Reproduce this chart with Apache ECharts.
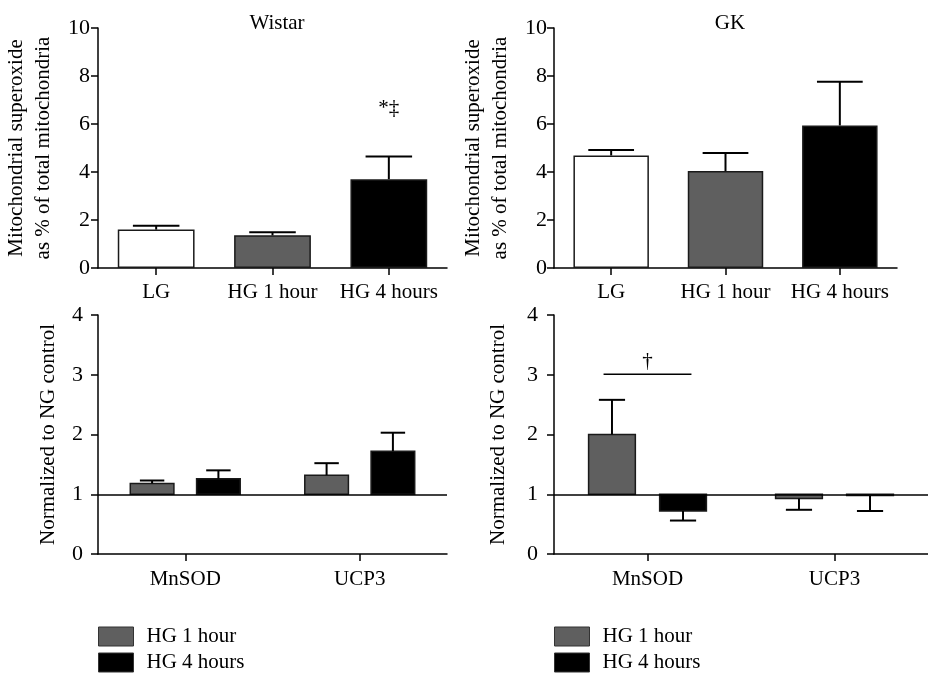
<!DOCTYPE html>
<html>
<head>
<meta charset="utf-8">
<script src="https://cdn.jsdelivr.net/npm/echarts@6/dist/echarts.min.js"></script>
<style>
  html, body { margin: 0; padding: 0; background: #fff; }
  #chart { width: 928px; height: 680px; }
</style>
</head>
<body>
<div id="chart"></div>
<script>
// 上排：线粒体超氧化物（均值 + 误差上限）
const topCategories = ['LG', 'HG 1 hour', 'HG 4 hours']
const wistarMean = [1.6, 1.36, 3.7]
const wistarErr = [1.76, 1.49, 4.65]
const gkMean = [4.69, 4.04, 5.94]
const gkErr = [4.92, 4.79, 7.76]
const topTicks = [0, 2, 4, 6, 8, 10]

// 下排：相对 NG 对照的表达量
const geneCategories = ['MnSOD', 'UCP3']
const groupNames = ['HG 1 hour', 'HG 4 hours']
const wistarHG1 = [1.18, 1.32]
const wistarHG1Err = [1.23, 1.52]
const wistarHG4 = [1.26, 1.72]
const wistarHG4Err = [1.40, 2.03]
const gkHG1 = [2.0, 0.93]
const gkHG1Err = [2.58, 0.74]
const gkHG4 = [0.72, 0.98]
const gkHG4Err = [0.56, 0.72]
const bottomTicks = [0, 1, 2, 3, 4]
const baseline = 1

// 标注
const wistarMark = [[2, 6.65, '*‡']]
const gkBracket = [[0, 3.01, 3.22, '†']]

const font = "'Liberation Serif', 'Times New Roman', serif"
const topColors = ['#ffffff', '#5f5f5f', '#000000']
const groupColors = ['#5f5f5f', '#000000']
const edge = '#1a1a1a'

// 坐标轴
function catAxis(gridIndex, data, margin) {
  return {
    type: 'category',
    gridIndex: gridIndex,
    data: data,
    axisLine: { lineStyle: { color: '#000', width: 1.5 } },
    axisTick: { show: true, length: 7, alignWithLabel: true, lineStyle: { color: '#000', width: 1.5 } },
    axisLabel: { color: '#000', fontFamily: font, fontSize: 21, margin: margin, interval: 0, hideOverlap: false },
    splitLine: { show: false }
  }
}
function valAxis(gridIndex, ticks, name, nameGap, margin) {
  return {
    type: 'value',
    gridIndex: gridIndex,
    min: ticks[0],
    max: ticks[ticks.length - 1],
    interval: ticks[1] - ticks[0],
    name: name,
    nameLocation: 'middle',
    nameGap: nameGap,
    nameTextStyle: { color: '#000', fontFamily: font, fontSize: 21, lineHeight: 27 },
    axisLine: { show: true, lineStyle: { color: '#000', width: 1.5 } },
    axisTick: { show: true, length: 7, lineStyle: { color: '#000', width: 1.5 } },
    axisLabel: { color: '#000', fontFamily: font, fontSize: 22, margin: margin },
    splitLine: { show: false }
  }
}

// 上排误差线
function errorSeries(gridIndex, means, errs) {
  return {
    type: 'custom',
    xAxisIndex: gridIndex,
    yAxisIndex: gridIndex,
    z: 3,
    encode: { x: 0, y: [1, 2] },
    data: means.map((v, i) => [i, v, errs[i]]),
    renderItem: function (params, api) {
      const band = api.size([1, 0])[0]
      const p0 = api.coord([api.value(0), api.value(1)])
      const p1 = api.coord([api.value(0), api.value(2)])
      const half = band * 0.2
      const st = { stroke: '#000', lineWidth: 2 }
      return {
        type: 'group',
        children: [
          { type: 'line', shape: { x1: p0[0], y1: p0[1], x2: p1[0], y2: p1[1] }, style: st },
          { type: 'line', shape: { x1: p1[0] - half, y1: p1[1], x2: p1[0] + half, y2: p1[1] }, style: st }
        ]
      }
    }
  }
}

function topBars(gridIndex, means) {
  return {
    type: 'bar',
    xAxisIndex: gridIndex,
    yAxisIndex: gridIndex,
    barWidth: '66%',
    data: means.map((v, i) => ({ value: v, itemStyle: { color: topColors[i] } })),
    itemStyle: { borderColor: edge, borderWidth: 1.5 }
  }
}

// 下排：以 1 为基线的柱子 + 误差线
function geneSeries(gridIndex, name, side, means, errs, color, withLine) {
  const s = {
    type: 'custom',
    name: name,
    xAxisIndex: gridIndex,
    yAxisIndex: gridIndex,
    itemStyle: { color: color, borderColor: edge, borderWidth: 1 },
    encode: { x: 0, y: [1, 2] },
    data: means.map((v, i) => [i, v, errs[i]]),
    renderItem: function (params, api) {
      const band = api.size([1, 0])[0]
      const i = api.value(0)
      const base = api.coord([i, baseline])
      const top = api.coord([i, api.value(1)])[1]
      const errY = api.coord([i, api.value(2)])[1]
      const cx = base[0] + side * 0.19 * band
      const w = 0.25 * band
      const half = 0.07 * band
      const st = { stroke: '#000', lineWidth: 2 }
      return {
        type: 'group',
        children: [
          {
            type: 'rect',
            shape: { x: cx - w / 2, y: Math.min(top, base[1]), width: w, height: Math.abs(base[1] - top) },
            style: { fill: color, stroke: edge, lineWidth: 1.5 }
          },
          { type: 'line', shape: { x1: cx, y1: top, x2: cx, y2: errY }, style: st },
          { type: 'line', shape: { x1: cx - half, y1: errY, x2: cx + half, y2: errY }, style: st }
        ]
      }
    }
  }
  if (withLine) {
    s.markLine = {
      silent: true,
      symbol: 'none',
      label: { show: false },
      lineStyle: { color: '#000', width: 1.5, type: 'solid' },
      data: [{ yAxis: baseline }]
    }
  }
  return s
}

// 图例：每项单独一个，保证竖排
function legendItem(left, top, name) {
  return {
    left: left, top: top, icon: 'rect',
    itemWidth: 35, itemHeight: 19,
    data: [name],
    itemStyle: { borderColor: '#333', borderWidth: 1 },
    textStyle: { fontFamily: font, fontSize: 21, color: '#000', padding: [0, 0, 0, 8] }
  }
}

const chart = echarts.init(document.getElementById('chart'))
chart.setOption({
  animation: false,
  backgroundColor: '#fff',
  title: [
    { text: 'Wistar', left: 272, top: 8, textAlign: 'center', textStyle: { fontFamily: font, fontSize: 21, fontWeight: 'normal', color: '#000' } },
    { text: 'GK', left: 725, top: 8, textAlign: 'center', textStyle: { fontFamily: font, fontSize: 21, fontWeight: 'normal', color: '#000' } }
  ],
  legend: [
    legendItem(93, 621, groupNames[0]),
    legendItem(93, 647, groupNames[1]),
    legendItem(549, 621, groupNames[0]),
    legendItem(549, 647, groupNames[1])
  ],
  grid: [
    { left: 98, right: 481, top: 28, bottom: 412 },
    { left: 554, right: 31, top: 28, bottom: 412 },
    { left: 98, right: 481, top: 315, bottom: 126 },
    { left: 554, right: 0, top: 315, bottom: 126 }
  ],
  xAxis: [
    catAxis(0, topCategories, 14),
    catAxis(1, topCategories, 14),
    catAxis(2, geneCategories, 15),
    catAxis(3, geneCategories, 15)
  ],
  yAxis: [
    valAxis(0, topTicks, 'Mitochondrial superoxide\nas % of total mitochondria', 41, 8),
    valAxis(1, topTicks, 'Mitochondrial superoxide\nas % of total mitochondria', 40, 7),
    valAxis(2, bottomTicks, 'Normalized to NG control', 36, 15),
    valAxis(3, bottomTicks, 'Normalized to NG control', 42, 16)
  ],
  series: [
    topBars(0, wistarMean),
    errorSeries(0, wistarMean, wistarErr),
    topBars(1, gkMean),
    errorSeries(1, gkMean, gkErr),
    geneSeries(2, groupNames[0], -1, wistarHG1, wistarHG1Err, groupColors[0], true),
    geneSeries(2, groupNames[1], 1, wistarHG4, wistarHG4Err, groupColors[1], false),
    geneSeries(3, groupNames[0], -1, gkHG1, gkHG1Err, groupColors[0], true),
    geneSeries(3, groupNames[1], 1, gkHG4, gkHG4Err, groupColors[1], false),
    {
      // 显著性标记 *‡
      type: 'custom',
      xAxisIndex: 0,
      yAxisIndex: 0,
      silent: true,
      data: wistarMark,
      renderItem: function (params, api) {
        const p = api.coord([api.value(0), api.value(1)])
        return {
          type: 'text',
          style: { text: wistarMark[params.dataIndex][2], x: p[0], y: p[1], align: 'center', verticalAlign: 'middle', fontFamily: font, fontSize: 21, fill: '#000' }
        }
      }
    },
    {
      // 显著性横线 †
      type: 'custom',
      xAxisIndex: 3,
      yAxisIndex: 3,
      silent: true,
      data: gkBracket,
      renderItem: function (params, api) {
        const band = api.size([1, 0])[0]
        const p = api.coord([api.value(0), api.value(1)])
        const t = api.coord([api.value(0), api.value(2)])
        const half = 0.235 * band
        return {
          type: 'group',
          children: [
            { type: 'line', shape: { x1: p[0] - half, y1: p[1], x2: p[0] + half, y2: p[1] }, style: { stroke: '#000', lineWidth: 1.5 } },
            { type: 'text', style: { text: gkBracket[params.dataIndex][3], x: t[0], y: t[1], align: 'center', verticalAlign: 'middle', fontFamily: font, fontSize: 21, fill: '#000' } }
          ]
        }
      }
    }
  ]
})
</script>
</body>
</html>
